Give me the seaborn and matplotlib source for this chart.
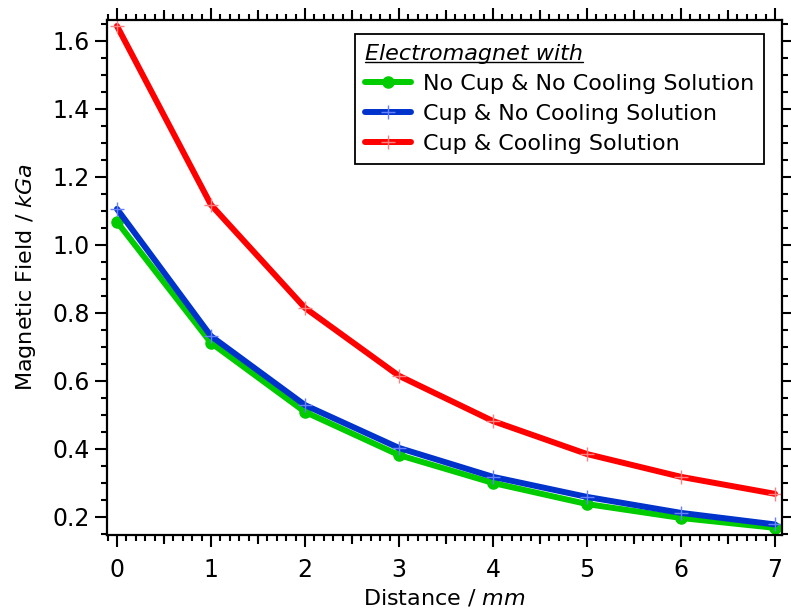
import numpy as np
import pandas as pd
import matplotlib
matplotlib.use("Agg")
import matplotlib.pyplot as plt
import seaborn as sns
from matplotlib.ticker import MultipleLocator
from matplotlib.lines import Line2D

distance = [0, 1, 2, 3, 4, 5, 6, 7]
no_cup_no_cool = [1.068, 0.712, 0.509, 0.382, 0.300, 0.238, 0.197, 0.168]
cup_no_cool = [1.106, 0.732, 0.529, 0.403, 0.318, 0.259, 0.212, 0.178]
cup_cool = [1.644, 1.118, 0.815, 0.615, 0.482, 0.385, 0.318, 0.268]
series_names = ["No Cup & No Cooling Solution", "Cup & No Cooling Solution", "Cup & Cooling Solution"]
legend_title = "Electromagnet with"
x_ticks = [0, 1, 2, 3, 4, 5, 6, 7]
y_ticks = [0.2, 0.4, 0.6, 0.8, 1.0, 1.2, 1.4, 1.6]

sns.set_theme(style="white")
plt.rcParams['font.family'] = ['DejaVu Sans']
plt.rcParams['mathtext.fontset'] = 'custom'
plt.rcParams['mathtext.it'] = 'DejaVu Sans:italic'
plt.rcParams['mathtext.rm'] = 'DejaVu Sans'
for k in ['text.color', 'axes.labelcolor', 'xtick.color', 'ytick.color']:
    plt.rcParams[k] = 'black'

fig = plt.figure(figsize=(7.91, 6.16), dpi=100)
ax = fig.add_axes([107/791, 1 - 535/616, (782-107)/791, (535-19.5)/616])

colors = ["#00cc00", "#0033cc", "#ff0000"]
mcolors = ["#00cc00", "#6680ff", "#ff8080"]
markers = ["o", "+", "+"]
msizes = [8, 10, 10]
mews = [1, 1, 1]
values = [no_cup_no_cool, cup_no_cool, cup_cool]

for name, vals, c, mc, m, ms, mew in zip(series_names, values, colors, mcolors, markers, msizes, mews):
    df = pd.DataFrame({"Distance": distance, "Field": vals})
    sns.lineplot(data=df, x="Distance", y="Field", ax=ax, color=c, linewidth=4.3,
                 marker=m, markersize=ms, markeredgecolor=mc, markerfacecolor=mc,
                 markeredgewidth=mew, label=name)

ax.set_xlim(-0.106, 7.074)
ax.set_ylim(0.147, 1.663)
ax.set_xticks(x_ticks)
ax.set_yticks(y_ticks)
ax.set_yticklabels([f"{v:.1f}" for v in y_ticks])
ax.xaxis.set_minor_locator(MultipleLocator(0.1))
ax.yaxis.set_minor_locator(MultipleLocator(0.05))
ax.tick_params(which="both", direction="out", top=True, right=True, bottom=True, left=True,
               labeltop=False, labelright=False, width=1.5, color="black")
ax.tick_params(which="major", length=8.5, labelsize=17)
ax.tick_params(axis="x", which="major", pad=8)
ax.tick_params(axis="y", which="major", pad=4)
ax.tick_params(which="minor", length=4.5)
for s in ax.spines.values():
    s.set_visible(True)
    s.set_color("black")
    s.set_linewidth(1.6)

# medium ticks at half units
half = [0.5, 1.5, 2.5, 3.5, 4.5, 5.5, 6.5]
for loc in ["bottom", "top"]:
    sec = ax.secondary_xaxis(loc)
    sec.set_xticks(half)
    sec.tick_params(direction="out", length=6.5, width=1.5, color="black",
                    labelbottom=False, labeltop=False)
    for s in sec.spines.values():
        s.set_visible(False)

ax.set_xlabel("Distance / $\\mathit{mm}$", fontsize=16, labelpad=4)
ax.set_ylabel("Magnetic Field / $\\mathit{kGa}$", fontsize=16, labelpad=10)

leg = ax.legend(loc="upper right", bbox_to_anchor=(764/791, 1 - 34/616),
                bbox_transform=fig.transFigure, frameon=True, fancybox=False,
                edgecolor="black", fontsize=16, title=legend_title,
                title_fontproperties={"style": "italic", "size": 16},
                alignment="left", handlelength=2.05, handletextpad=0.55,
                borderpad=0.45, labelspacing=0.45, borderaxespad=0)
leg.get_frame().set_linewidth(1.3)
leg.get_frame().set_alpha(1)

fig.canvas.draw()
t = leg.get_title()
bb = t.get_window_extent(fig.canvas.get_renderer())
inv = fig.transFigure.inverted()
(x0, y0), (x1, y1) = inv.transform([(bb.x0, bb.y0), (bb.x1, bb.y0)])
fig.add_artist(Line2D([x0, x1], [y0 + 0.003, y0 + 0.003], transform=fig.transFigure,
                      color="black", linewidth=1.0))

fig.savefig("out.png", dpi=100)
